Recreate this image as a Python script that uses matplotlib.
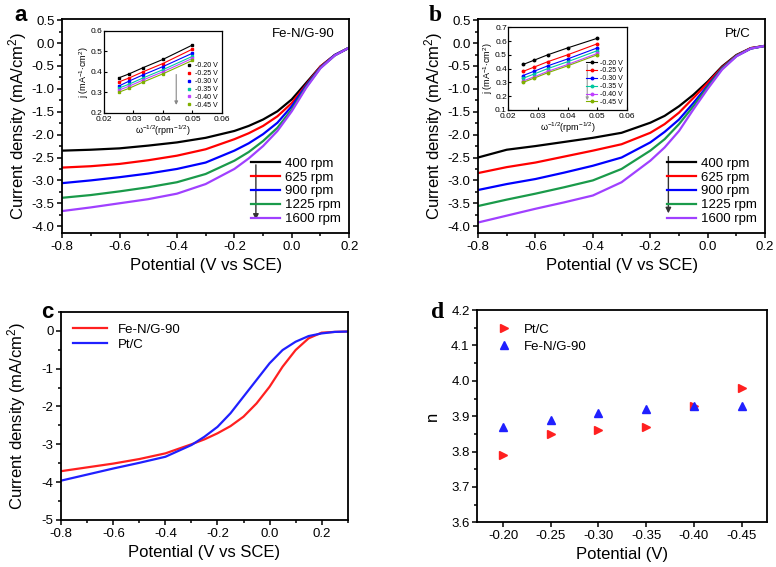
import matplotlib
matplotlib.use("Agg")
import matplotlib.pyplot as plt
from matplotlib.ticker import MultipleLocator

plt.rcParams['font.family'] = ['Liberation Sans', 'DejaVu Sans']
plt.rcParams['axes.linewidth'] = 1.3
plt.rcParams['axes.unicode_minus'] = False
plt.rcParams['mathtext.default'] = 'regular'

# ---- data ----

# LSV potentials (V vs SCE)
pot = [-0.8, -0.7, -0.6, -0.5, -0.4, -0.3, -0.2, -0.15, -0.1, -0.05, 0.0, 0.05, 0.1, 0.15, 0.2]
rpm_labels = ["400 rpm", "625 rpm", "900 rpm", "1225 rpm", "1600 rpm"]
rpm_colors = ["black", "#ff0000", "#0000ff", "#1a9a4a", "#a040ff"]

# panel a: Fe-N/G-90
fe_400 = [-2.35, -2.33, -2.30, -2.24, -2.17, -2.07, -1.92, -1.81, -1.67, -1.49, -1.23, -0.87, -0.51, -0.26, -0.10]
fe_625 = [-2.72, -2.69, -2.64, -2.56, -2.46, -2.32, -2.10, -1.97, -1.81, -1.60, -1.31, -0.91, -0.51, -0.26, -0.10]
fe_900 = [-3.06, -3.00, -2.93, -2.85, -2.75, -2.61, -2.35, -2.19, -1.99, -1.74, -1.38, -0.93, -0.53, -0.26, -0.10]
fe_1225 = [-3.38, -3.32, -3.24, -3.15, -3.04, -2.86, -2.57, -2.38, -2.14, -1.85, -1.45, -0.96, -0.54, -0.27, -0.10]
fe_1600 = [-3.67, -3.59, -3.50, -3.41, -3.29, -3.08, -2.75, -2.52, -2.25, -1.92, -1.49, -0.98, -0.55, -0.27, -0.10]

# panel b: Pt/C
pt_400 = [-2.50, -2.33, -2.25, -2.16, -2.07, -1.96, -1.74, -1.59, -1.38, -1.13, -0.84, -0.51, -0.26, -0.11, -0.06]
pt_625 = [-2.84, -2.71, -2.61, -2.48, -2.35, -2.21, -1.96, -1.77, -1.52, -1.20, -0.87, -0.53, -0.27, -0.11, -0.06]
pt_900 = [-3.21, -3.08, -2.97, -2.83, -2.68, -2.50, -2.17, -1.94, -1.67, -1.31, -0.93, -0.55, -0.28, -0.12, -0.06]
pt_1225 = [-3.56, -3.42, -3.29, -3.15, -3.00, -2.75, -2.35, -2.10, -1.77, -1.38, -0.96, -0.56, -0.28, -0.12, -0.06]
pt_1600 = [-3.92, -3.77, -3.62, -3.48, -3.33, -3.04, -2.57, -2.28, -1.92, -1.45, -1.00, -0.58, -0.29, -0.12, -0.06]

# panel c: 1600 rpm comparison
pot_c = [-0.8, -0.7, -0.6, -0.5, -0.4, -0.3, -0.25, -0.2, -0.15, -0.1, -0.05, 0.0, 0.05, 0.1, 0.15, 0.2, 0.25, 0.3]
c_fe = [-3.71, -3.61, -3.51, -3.39, -3.24, -3.00, -2.87, -2.71, -2.52, -2.27, -1.92, -1.48, -0.95, -0.51, -0.20, -0.05, -0.03, -0.02]
c_pt = [-3.96, -3.80, -3.64, -3.49, -3.33, -3.02, -2.80, -2.54, -2.18, -1.74, -1.30, -0.86, -0.51, -0.29, -0.14, -0.07, -0.03, -0.02]

# insets: K-L plots
kl_x = [0.025, 0.0286, 0.0333, 0.04, 0.05]
kl_labels = ["-0.20 V", "-0.25 V", "-0.30 V", "-0.35 V", "-0.40 V", "-0.45 V"]
kl_colors = ["black", "#ff0000", "#0000ff", "#00c8a0", "#c040ff", "#80b000"]
kl_fe = [
    [0.37, 0.39, 0.42, 0.46, 0.53],
    [0.35, 0.37, 0.40, 0.44, 0.51],
    [0.33, 0.355, 0.385, 0.425, 0.49],
    [0.32, 0.34, 0.37, 0.41, 0.475],
    [0.31, 0.33, 0.36, 0.40, 0.465],
    [0.30, 0.32, 0.35, 0.39, 0.455],
]
kl_pt = [
    [0.43, 0.46, 0.50, 0.55, 0.62],
    [0.38, 0.41, 0.45, 0.50, 0.58],
    [0.35, 0.38, 0.42, 0.47, 0.55],
    [0.33, 0.36, 0.40, 0.45, 0.53],
    [0.31, 0.34, 0.38, 0.43, 0.51],
    [0.30, 0.33, 0.37, 0.42, 0.50],
]

# panel d: electron transfer number
pot_d = [-0.20, -0.25, -0.30, -0.35, -0.40, -0.45]
n_pt = [3.79, 3.85, 3.86, 3.87, 3.93, 3.98]
n_fe = [3.87, 3.89, 3.91, 3.92, 3.93, 3.93]

# ---- figure ----

fig = plt.figure(figsize=(7.76, 5.67), dpi=100)


def style(ax, size=9.5):
    ax.tick_params(which='both', direction='out', top=False, right=False, labelsize=size, width=1.1, pad=2)
    ax.tick_params(which='major', length=3.5)
    ax.tick_params(which='minor', length=2)


def lsv_panel(rect, curves, tag):
    ax = fig.add_axes(rect)
    for y, c, lab in zip(curves, rpm_colors, rpm_labels):
        ax.plot(pot, y, color=c, lw=1.6, label=lab)
    ax.set_xlim(-0.8, 0.2)
    ax.set_ylim(-4.15, 0.52)
    ax.xaxis.set_major_locator(MultipleLocator(0.2))
    ax.xaxis.set_minor_locator(MultipleLocator(0.1))
    ax.yaxis.set_major_locator(MultipleLocator(0.5))
    ax.yaxis.set_minor_locator(MultipleLocator(0.25))
    style(ax)
    ax.set_xlabel("Potential (V vs SCE)", fontsize=12)
    ax.set_ylabel("Current density (mA/cm$^2$)", fontsize=12, labelpad=2)
    ax.legend(loc='lower right', frameon=False, fontsize=9.5, handlelength=2.2,
              labelspacing=0.12, borderaxespad=0.2, handletextpad=0.4)
    ax.text(0.95, 0.93, tag, transform=ax.transAxes, ha='right', va='center', fontsize=9.5)
    return ax


def kl_inset(rect, data, ylim, yticks, with_lines):
    ax = fig.add_axes(rect)
    for y, c, lab in zip(data, kl_colors, kl_labels):
        if with_lines:
            ax.plot(kl_x, y, color=c, lw=0.8, marker='o', ms=1.8, label=lab)
        else:
            ax.plot(kl_x, y, color=c, lw=0.8)
            ax.plot(kl_x, y, color=c, lw=0, marker='s', ms=1.8, label=lab)
    ax.set_xlim(0.02, 0.06)
    ax.set_ylim(*ylim)
    ax.set_xticks([0.02, 0.03, 0.04, 0.05, 0.06])
    ax.set_yticks(yticks)
    ax.tick_params(direction='in', labelsize=6, length=2, width=0.8, pad=1)
    ax.tick_params(axis='x', pad=2.5)
    for s in ax.spines.values():
        s.set_linewidth(0.9)
    ax.set_xlabel("$\\omega^{-1/2}$(rpm$^{-1/2}$)", fontsize=6.5, labelpad=0)
    ax.set_ylabel("j (mA$^{-1}$$\\cdot$cm$^{2}$)", fontsize=6.5, labelpad=0)
    ax.legend(loc='lower right', frameon=False, fontsize=5, handlelength=1.6 if with_lines else 0.8,
              labelspacing=0.12, borderaxespad=0.2, handletextpad=0.4)
    return ax


# panel a
ax_a = lsv_panel([0.080, 0.589, 0.370, 0.377], [fe_400, fe_625, fe_900, fe_1225, fe_1600], "Fe-N/G-90")
ax_a.annotate('', xy=(-0.125, -3.92), xytext=(-0.125, -2.6),
              arrowprops=dict(arrowstyle='-|>', color='#333333', lw=1.0, mutation_scale=8))
in_a = kl_inset([0.134, 0.801, 0.152, 0.145], kl_fe, (0.2, 0.6), [0.2, 0.3, 0.4, 0.5, 0.6], False)
in_a.annotate('', xy=(0.0445, 0.225), xytext=(0.0445, 0.40),
              arrowprops=dict(arrowstyle='-|>', color='#888888', lw=0.8, mutation_scale=5))

# panel b
ax_b = lsv_panel([0.616, 0.589, 0.370, 0.377], [pt_400, pt_625, pt_900, pt_1225, pt_1600], "Pt/C")
ax_b.annotate('', xy=(-0.137, -3.78), xytext=(-0.137, -2.42),
              arrowprops=dict(arrowstyle='-|>', color='#333333', lw=1.0, mutation_scale=8))
in_b = kl_inset([0.655, 0.806, 0.153, 0.146], kl_pt, (0.1, 0.7),
                [0.1, 0.2, 0.3, 0.4, 0.5, 0.6, 0.7], True)
in_b.annotate('', xy=(0.0466, 0.15), xytext=(0.0466, 0.45),
              arrowprops=dict(arrowstyle='-|>', color='#999999', lw=0.8, mutation_scale=4))

# panel c
ax_c = fig.add_axes([0.079, 0.083, 0.369, 0.367])
ax_c.plot(pot_c, c_fe, color='#ff2020', lw=1.6, label="Fe-N/G-90")
ax_c.plot(pot_c, c_pt, color='#2020ff', lw=1.6, label="Pt/C")
ax_c.set_xlim(-0.8, 0.3)
ax_c.set_ylim(-5, 0.5)
ax_c.xaxis.set_major_locator(MultipleLocator(0.2))
ax_c.xaxis.set_minor_locator(MultipleLocator(0.1))
ax_c.yaxis.set_major_locator(MultipleLocator(1))
ax_c.yaxis.set_minor_locator(MultipleLocator(0.5))
style(ax_c)
ax_c.set_xlabel("Potential (V vs SCE)", fontsize=12)
ax_c.set_ylabel("Current density (mA/cm$^2$)", fontsize=12, labelpad=10)
ax_c.legend(loc='upper left', frameon=False, fontsize=9.5, handlelength=2.6,
            labelspacing=0.2, borderaxespad=0.5)

# panel d
ax_d = fig.add_axes([0.615, 0.079, 0.374, 0.374])
ax_d.plot(pot_d, n_pt, ls='none', marker='>', ms=6, color='#ff2020', label="Pt/C")
ax_d.plot(pot_d, n_fe, ls='none', marker='^', ms=6, color='#2020ff', label="Fe-N/G-90")
ax_d.set_xlim(-0.173, -0.477)
ax_d.set_ylim(3.6, 4.2)
ax_d.set_xticks(pot_d)
ax_d.set_xticklabels(["%.2f" % v for v in pot_d])
ax_d.yaxis.set_major_locator(MultipleLocator(0.1))
ax_d.yaxis.set_minor_locator(MultipleLocator(0.05))
style(ax_d)
ax_d.set_xlabel("Potential (V)", fontsize=12)
ax_d.set_ylabel("n", fontsize=12, labelpad=8)
ax_d.legend(loc='upper left', frameon=False, fontsize=9.5, handletextpad=0.5,
            labelspacing=0.4, borderaxespad=0.6)

# panel letters
fig.text(0.018, 0.972, "a", fontsize=16, fontweight='bold', va='center')
fig.text(0.553, 0.972, "b", fontsize=17, fontweight='bold', va='center', family='Liberation Serif')
fig.text(0.053, 0.448, "c", fontsize=16, fontweight='bold', va='center')
fig.text(0.555, 0.448, "d", fontsize=17, fontweight='bold', va='center', family='Liberation Serif')

fig.savefig("out.png", dpi=100)
